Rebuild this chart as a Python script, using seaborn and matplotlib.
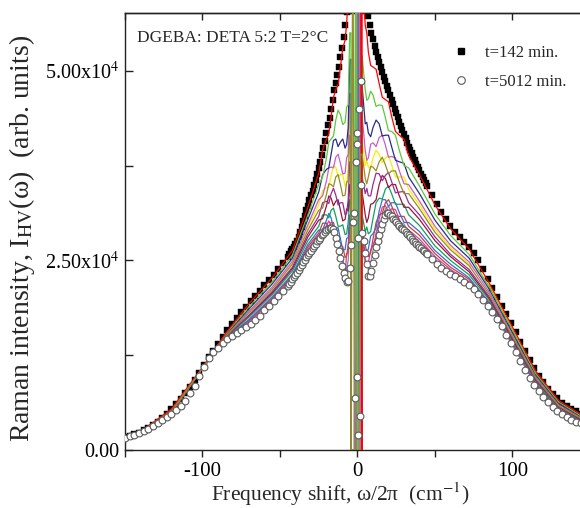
import numpy as np
import pandas as pd
import matplotlib
matplotlib.use("Agg")
import matplotlib.pyplot as plt
import seaborn as sns
from matplotlib.ticker import FixedLocator, FuncFormatter
from matplotlib.lines import Line2D

# ---------------------------------------------------------------------------
# Depolarised (HV) Raman spectra of DGEBA:DETA 5:2 curing at T = 2 C.
# Intensities are given in units of 1e3 (arb. units).
# ---------------------------------------------------------------------------

# frequency grid of the marker spectra (cm^-1): coarse wings, fine centre
shift_grid = [
    -150, -147, -144, -141, -138, -135, -132, -129, -126, -123, -120, -117,
    -114, -111, -108, -105, -102, -99, -96, -93, -90, -87, -84, -81, -78, -75,
    -72, -69, -66, -63, -60, -57, -54, -51, -48,
    -45, -44, -43, -42, -41, -40, -39, -38, -37, -36, -35, -34, -33, -32, -31,
    -30, -29, -28, -27, -26, -25, -24, -23, -22, -21, -20, -19, -18, -17, -16,
    -15, -14, -13, -12, -11, -10, -9, -8, -7, -6, -5, -4, -3, -2, -1, 0,
    1, 2, 3, 4, 5, 6, 7, 8, 9, 10, 11, 12, 13, 14, 15, 16, 17, 18, 19, 20,
    21, 22, 23, 24, 25, 26, 27, 28, 29, 30, 31, 32, 33, 34, 35, 36, 37, 38,
    39, 40, 41, 42, 43, 44, 45,
    48, 51, 54, 57, 60, 63, 66, 69, 72, 75, 78, 81, 84, 87, 90, 93, 96, 99,
    102, 105, 108, 111, 114, 117, 120, 123, 126, 129, 132, 135, 138, 141, 144,
    147, 150,
]

# t = 142 min (filled squares)
int_142 = [
    1.7, 1.9, 2.1, 2.3, 2.6, 2.9, 3.3, 3.7, 4.2, 4.8, 5.4, 6.0, 6.7, 7.5, 8.3,
    9.2, 10.2, 11.2, 12.2, 13.1, 14.0, 14.9, 15.8, 16.6, 17.4, 18.2, 18.9,
    19.6, 20.3, 21.0, 21.7, 22.4, 23.1, 23.8, 24.6,
    25.5, 25.8, 26.2, 26.5, 26.8, 27.2, 27.6, 28.1, 28.8, 29.4, 30.2, 30.9,
    31.6, 32.2, 32.9, 33.6, 34.2, 34.9, 35.6, 36.4, 37.2, 38.0, 38.9, 39.8,
    40.8, 41.8, 42.8, 43.8, 45.0, 46.2, 47.4, 48.4, 49.5, 50.5, 51.8, 53.0,
    54.5, 56.0, 57.8, 60.0, 62.0, 64.0, 65.0, 67.0, 69.0, 70.0,
    69.0, 67.0, 65.0, 62.0, 60.0, 58.5, 57.2, 56.0, 55.0, 54.2, 53.3, 52.5,
    51.8, 51.2, 50.5, 49.9, 49.2, 48.6, 48.0, 47.4, 46.8, 46.2, 45.6, 45.0,
    44.4, 43.9, 43.3, 42.7, 42.2, 41.6, 41.1, 40.5, 40.0, 39.5, 39.1, 38.6,
    38.2, 37.7, 37.3, 36.9, 36.4, 36.0, 35.6, 35.2, 34.8,
    33.6, 32.4, 31.4, 30.4, 29.5, 28.8, 28.1, 27.4, 26.8, 26.0, 25.0, 23.8,
    22.6, 21.4, 20.2, 19.0, 17.9, 16.7, 15.5, 14.3, 13.1, 11.9, 10.8, 9.8,
    8.9, 8.1, 7.4, 6.8, 6.2, 5.8, 5.4, 5.1, 4.8, 4.6, 4.4,
]

# t = 5012 min (open circles)
int_5012 = [
    1.6, 1.8, 2.0, 2.2, 2.5, 2.8, 3.2, 3.5, 3.9, 4.3, 4.8, 5.3, 5.8, 6.5, 7.5,
    8.5, 9.8, 11.0, 12.1, 12.9, 13.5, 14.1, 14.6, 15.0, 15.4, 15.8, 16.2,
    16.6, 17.1, 17.7, 18.4, 19.0, 19.7, 20.3, 20.9,
    21.6, 21.9, 22.2, 22.5, 22.8, 23.1, 23.4, 23.7, 24.1, 24.4, 24.8, 25.1,
    25.4, 25.7, 26.0, 26.3, 26.6, 26.9, 27.2, 27.5, 27.7, 28.0, 28.3, 28.5,
    28.7, 29.0, 29.2, 29.3, 29.3, 29.1, 28.7, 28.0, 27.2, 26.3, 25.3, 24.3,
    23.4, 22.7, 22.1, 22.3, 24.0, 27.0, 30.0, 31.3, 38.0, 41.8,
    45.0, 35.0, 28.6, 27.5, 26.0, 24.5, 23.0, 22.9, 23.6, 24.6, 25.7, 26.7,
    27.6, 28.4, 29.1, 29.8, 30.5, 31.0, 31.3, 31.2, 31.0, 30.8, 30.5, 30.3,
    30.0, 29.8, 29.5, 29.3, 29.2, 29.0, 28.8, 28.5, 28.3, 28.1, 27.8, 27.6,
    27.4, 27.2, 27.0, 26.8, 26.6, 26.4, 26.2, 26.0, 25.8,
    25.2, 24.5, 24.0, 23.6, 23.2, 22.9, 22.5, 22.1, 21.7, 21.2, 20.6, 19.8,
    19.0, 18.2, 17.3, 16.3, 15.2, 14.1, 12.9, 11.7, 10.5, 9.5, 8.6, 7.8,
    7.0, 6.3, 5.7, 5.2, 4.7, 4.3, 4.0, 3.7, 3.5, 3.3, 3.2,
]

# extra t = 5012 min points inside the laser-line region
core_shift_5012 = [2.4, -0.2, 0.6, 0.0, -1.3, 0.5, 1.5]
core_int_5012 = [48.7, 40.4, 27.9, 9.6, 6.8, 2.0, 4.5]

# frequency grid of the intermediate curing times (lines)
shift_line = [
    -140, -120, -100, -85, -70, -55, -42, -32,
    -25, -22.5, -20, -18.5, -17, -15.5, -14, -12.5, -11, -9.5, -8, -7, -6, -5,
    -4.2, -4, -3, -2, -1, 0, 1, 2, 2.8,
    3, 4, 5, 6, 7, 8.5, 10, 12, 14, 16, 18, 20, 22, 24.5, 27, 30, 33,
    40, 50, 60, 72, 85, 100, 115, 130, 145,
]

run_red = [2.4, 5.4, 10.9, 15.4, 19.3, 22.7, 26.3, 32.0,
           36.5, 39.6, 41.0, 41.7, 44.0, 46.5, 47.5, 48.2, 50.5, 53.0, 54.0,
           56.2, 60.0, 62.0,
           62.0, 80, 80, 80, 80, 80, 80, 80, 0,
           62.0, 59.0, 56.0, 55.0, 52.5, 50.7, 50.5, 50.2, 48.3, 46.5, 46.2,
           45.9, 44.0, 42.0, 41.5, 41.0, 38.8,
           36.3, 32.3, 29.2, 26.5, 22.0, 16.2, 10.4, 6.5, 4.6]
run_green = [2.4, 5.3, 10.8, 15.3, 18.9, 22.2, 25.7, 31.0,
             35.0, 36.0, 38.5, 40.6, 41.0, 41.4, 43.5, 44.8, 44.2, 42.9, 43.2,
             45.2, 45.5, 55.0,
             55.0, 0, 0, 0, 80, 0, 0, 0, 0,
             52.0, 49.7, 47.5, 46.1, 46.3, 47.3, 46.8, 45.3, 45.5, 45.4, 43.8,
             42.1, 42.0, 41.5, 39.5, 37.5, 37.2,
             34.8, 31.1, 28.3, 25.8, 21.5, 15.8, 10.1, 6.3, 4.4]
run_navy = [2.4, 5.2, 10.8, 15.2, 18.6, 21.9, 25.3, 30.4,
            34.0, 36.3, 37.0, 37.2, 39.0, 40.8, 41.0, 40.0, 40.6, 41.0, 39.8,
            40.3, 42.5, 51.5,
            51.5, 0, 0, 0, 0, 0, 0, 0, 0,
            48.0, 45.5, 43.0, 43.2, 41.8, 41.3, 42.5, 43.5, 43.0, 41.4, 41.5,
            41.5, 40.0, 38.2, 38.0, 37.8, 36.0,
            33.8, 30.3, 27.6, 25.3, 21.2, 15.5, 9.9, 6.1, 4.3]
run_violet = [2.4, 5.2, 10.8, 15.1, 18.3, 21.5, 24.9, 29.7,
              33.0, 33.5, 35.5, 37.2, 37.3, 37.2, 38.6, 39.0, 37.8, 36.4,
              36.5, 38.5, 39.0, 47.0,
              47.0, 0, 0, 0, 0, 80, 80, 0, 0,
              44.0, 41.8, 39.5, 38.2, 38.5, 40.3, 40.5, 40.0, 41.2, 41.5,
              40.2, 38.6, 38.7, 38.5, 36.8, 35.1, 35.0,
              32.8, 29.5, 27.0, 24.8, 20.8, 15.3, 9.7, 6.0, 4.2]
run_yellow = [2.4, 5.1, 10.8, 15.1, 18.2, 21.4, 24.7, 29.4,
              32.3, 34.2, 34.6, 34.6, 36.2, 37.5, 37.3, 36.0, 36.3, 36.3,
              34.8, 35.1, 37.0, 44.0,
              44.0, 0, 0, 0, 0, 0, 0, 0, 0,
              41.0, 39.2, 37.5, 38.2, 37.3, 37.1, 38.5, 39.5, 39.0, 37.9,
              38.5, 38.8, 37.6, 36.0, 36.0, 36.0, 34.4,
              32.3, 29.1, 26.7, 24.5, 21.8, 16.0, 9.8, 6.0, 4.2]
run_olive = [2.4, 5.1, 10.8, 15.0, 18.1, 21.2, 24.5, 29.0,
             31.6, 31.9, 33.7, 35.1, 35.0, 34.7, 36.0, 36.3, 35.0, 33.5, 33.6,
             35.3, 35.5, 41.5,
             41.5, 0, 80, 0, 0, 0, 0, 39.0, 39.0,
             39.0, 37.4, 35.8, 35.1, 36.0, 37.4, 37.3, 36.8, 38.0, 38.6, 37.6,
             36.4, 36.8, 36.8, 35.3, 33.8, 33.8,
             31.8, 28.7, 26.4, 24.3, 20.5, 15.0, 9.5, 5.8, 4.1]
run_purple = [2.4, 5.1, 10.8, 14.9, 17.8, 20.9, 24.1, 28.5,
              30.8, 32.6, 32.8, 32.5, 33.8, 34.5, 33.6, 32.3, 32.6, 32.6,
              31.0, 31.2, 33.0, 38.0,
              38.0, 0, 0, 0, 0, 80, 80, 80, 0,
              36.0, 34.9, 33.8, 34.5, 33.5, 33.5, 35.0, 36.5, 36.4, 35.5,
              36.2, 36.6, 35.4, 33.9, 34.0, 34.1, 32.6,
              31.0, 28.1, 25.8, 23.8, 20.2, 14.8, 9.3, 5.7, 4.0]
run_wine = [2.4, 5.0, 10.8, 14.9, 17.7, 20.7, 23.9, 28.1,
            30.3, 30.5, 32.2, 33.5, 33.2, 32.2, 32.8, 33.0, 31.6, 30.2, 30.4,
            31.8, 31.5, 35.0,
            35.0, 0, 0, 0, 0, 0, 0, 0, 0,
            34.0, 32.5, 31.0, 30.0, 30.6, 32.4, 32.5, 33.0, 35.0, 36.2, 35.8,
            34.6, 35.0, 35.0, 33.5, 32.0, 32.0,
            30.4, 27.6, 25.5, 23.5, 20.0, 14.6, 9.2, 5.6, 3.9]
run_teal = [2.3, 5.0, 10.8, 14.8, 17.5, 20.5, 23.6, 27.6,
            29.5, 31.0, 31.0, 30.6, 31.6, 31.9, 30.8, 29.5, 29.5, 29.7, 28.4,
            28.5, 30.0, 33.0,
            33.0, 0, 0, 0, 80, 80, 0, 0, 0,
            31.0, 29.9, 28.8, 29.4, 28.5, 28.8, 30.5, 32.6, 33.2, 33.1, 34.4,
            34.8, 33.8, 32.4, 32.4, 32.4, 31.0,
            29.6, 26.9, 25.0, 23.1, 19.8, 14.4, 9.0, 5.4, 3.8]
run_blue = [2.3, 4.9, 10.8, 14.7, 17.2, 20.2, 23.2, 27.1,
            29.0, 29.0, 30.3, 31.2, 30.6, 29.3, 29.3, 29.3, 27.8, 26.4, 26.4,
            27.9, 28.0, 31.0,
            31.0, 0, 0, 0, 0, 80, 80, 0, 0,
            29.0, 28.0, 27.0, 26.1, 26.5, 28.2, 28.5, 29.3, 31.5, 33.0, 33.0,
            32.1, 32.6, 32.6, 31.3, 30.0, 30.0,
            28.8, 26.3, 24.5, 22.7, 19.5, 14.2, 8.8, 5.3, 3.7]
run_brick = [2.3, 4.9, 10.8, 14.7, 17.1, 20.0, 23.0, 26.8,
             28.6, 29.9, 29.9, 29.4, 30.0, 30.0, 28.8, 27.3, 27.0, 26.8, 25.4,
             25.6, 27.0, 30.0,
             30.0, 0, 0, 0, 0, 0, 0, 0, 0,
             28.5, 27.2, 26.0, 26.4, 25.5, 26.0, 27.8, 30.0, 31.0, 31.2, 32.6,
             33.0, 32.2, 30.9, 30.8, 30.8, 29.5,
             28.3, 25.9, 24.1, 22.5, 19.3, 14.1, 8.7, 5.2, 3.6]
run_magenta = [2.3, 4.9, 10.8, 14.6, 17.0, 19.8, 22.8, 26.5,
               28.3, 28.4, 29.6, 30.2, 29.6, 28.4, 28.4, 27.9, 26.3, 24.8,
               23.0, 25.9, 26.0, 29.5,
               29.5, 0, 0, 0, 0, 0, 80, 80, 0,
               28.0, 26.6, 25.2, 24.3, 24.6, 26.4, 27.0, 28.1, 30.5, 32.0,
               32.2, 31.4, 31.8, 31.7, 30.4, 29.1, 29.0,
               27.8, 25.5, 23.8, 22.2, 19.1, 14.0, 8.6, 5.2, 3.5]
run_grey = [2.3, 4.8, 10.8, 14.6, 16.8, 19.7, 22.6, 26.1,
            28.0, 29.2, 29.3, 28.9, 29.4, 29.3, 28.2, 26.5, 25.8, 25.2, 23.6,
            23.8, 25.0, 29.0,
            29.0, 0, 0, 0, 0, 0, 0, 0, 0,
            27.5, 26.0, 24.5, 24.7, 23.8, 24.6, 26.3, 28.7, 30.0, 30.4, 31.8,
            32.1, 31.4, 30.2, 30.0, 29.8, 28.6,
            27.3, 25.1, 23.5, 22.0, 19.0, 13.8, 8.5, 5.1, 3.5]

# drawing order (first drawn at the bottom)
runs = [
    ("r13", run_grey, "#8a8a8a"),
    ("r12", run_magenta, "#d040a0"),
    ("r11", run_brick, "#d23c3c"),
    ("r10", run_blue, "#3c6cd0"),
    ("r09", run_teal, "#11a060"),
    ("r08", run_wine, "#96163c"),
    ("r07", run_purple, "#962d96"),
    ("r05", run_yellow, "#f2f200"),
    ("r04", run_violet, "#c75fc7"),
    ("r03", run_navy, "#2b2b8c"),
    ("r02", run_green, "#5fc83a"),
    ("r01", run_red, "#ff0000"),
    ("r06", run_olive, "#9a8a2e"),
]

SCALE = 1e3

# ---------------------------------------------------------------------------
sns.set_theme(style="ticks")
plt.rcParams["font.family"] = ["Liberation Serif", "DejaVu Serif"]
plt.rcParams["mathtext.fontset"] = "stix"
plt.rcParams["axes.unicode_minus"] = False

fig = plt.figure(figsize=(5.8, 5.08), dpi=100)
ax = fig.add_axes([0.2155, 0.1142, 0.8017, 0.860])

# t = 142 min markers
sns.scatterplot(x=shift_grid, y=np.array(int_142) * SCALE, marker="s", s=14,
                color="black", edgecolor="black", linewidth=0.3, ax=ax,
                zorder=2, legend=False)

# intermediate curing times as coloured lines
line_df = pd.concat(
    [pd.DataFrame({"shift": shift_line,
                   "intensity": np.array(vals) * SCALE,
                   "run": name}) for name, vals, _ in runs],
    ignore_index=True)
sns.lineplot(data=line_df, x="shift", y="intensity", hue="run",
             hue_order=[name for name, _, _ in runs],
             palette={name: col for name, _, col in runs},
             sort=False, estimator=None, linewidth=0.9, legend=False,
             ax=ax, zorder=3)

# t = 5012 min markers
sns.scatterplot(x=list(shift_grid) + core_shift_5012,
                y=np.array(int_5012 + core_int_5012) * SCALE,
                marker="o", s=24, facecolor="white", edgecolor="#5a5a5a",
                linewidth=0.8, ax=ax, zorder=4, legend=False)

ax.set_xlim(-150, 150)
ax.set_ylim(0, 57600)
ax.set_xlabel("")
ax.set_ylabel("")

ax.xaxis.set_major_locator(FixedLocator([-100, 0, 100]))
ax.xaxis.set_minor_locator(FixedLocator([-150, -50, 50, 150]))
ax.yaxis.set_major_locator(FixedLocator([0, 25000, 50000]))
ax.yaxis.set_minor_locator(FixedLocator([12500, 37500]))


def sci_label(v, _pos):
    if v == 0:
        return "0.00"
    return f"{v / 1e4:.2f}x10$^{{4}}$"


ax.yaxis.set_major_formatter(FuncFormatter(sci_label))
ax.tick_params(axis="x", which="both", direction="out", length=5, width=1,
               labelsize=15, colors="#222222", pad=4)
ax.tick_params(axis="y", which="both", direction="in", length=6, width=1,
               labelsize=14.5, colors="#222222", pad=4)
for lab in ax.get_xticklabels() + ax.get_yticklabels():
    lab.set_color("black")

top = ax.secondary_xaxis("top")
top.set_xticks([-150, -100, -50, 0, 50, 100, 150])
top.tick_params(direction="in", length=5, width=1, labeltop=False,
                colors="#222222")

for side in ["left", "bottom", "top", "right"]:
    ax.spines[side].set_linewidth(1.0)
    ax.spines[side].set_color("#222222")
top.spines["top"].set_linewidth(1.0)

fig.text(340 / 580, 1 - 494 / 508, "Frequency shift, ω/2π  (cm$^{-1}$)",
         ha="center", va="center", fontsize=15.5)
fig.text(22 / 580, 1 - 238 / 508,
         "Raman intensity, I$_{\\mathrm{HV}}$(ω)  (arb. units)",
         ha="center", va="center", rotation=90, fontsize=20)

ax.text(137 / 580, 1 - 38 / 508, "DGEBA: DETA 5:2 T=2°C",
        transform=fig.transFigure, ha="left", va="center", fontsize=12.5)

handles = [
    Line2D([], [], linestyle="none", marker="s", markersize=4.5,
           color="black"),
    Line2D([], [], linestyle="none", marker="o", markersize=5.5,
           markerfacecolor="white", markeredgecolor="#5a5a5a",
           markeredgewidth=0.8),
]
ax.legend(handles, ["t=142 min.", "t=5012 min."], loc="upper left",
          bbox_to_anchor=(453 / 580, 1 - 45 / 508),
          bbox_transform=fig.transFigure, frameon=False, fontsize=12,
          handlelength=1.0, handletextpad=0.9, labelspacing=0.75,
          borderpad=0, borderaxespad=0)

fig.savefig("out.png", dpi=100)
